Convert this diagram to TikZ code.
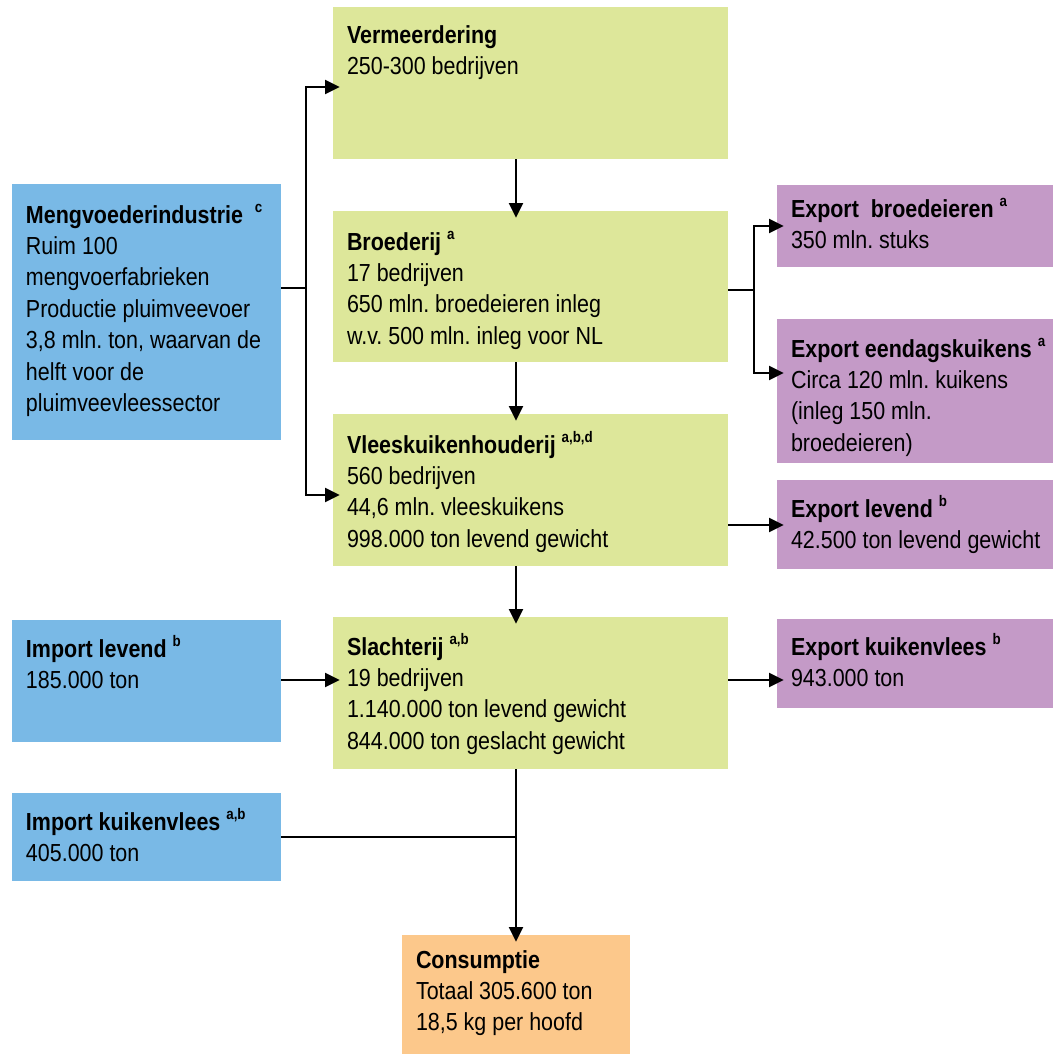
\documentclass[tikz,border=0pt]{standalone}
\usepackage{fontspec}
\setmainfont[FakeStretch=0.87]{Liberation Sans}
\usetikzlibrary{arrows.meta}
\definecolor{boxgreen}{RGB}{221,231,154}
\definecolor{boxblue}{RGB}{121,185,230}
\definecolor{boxpurple}{RGB}{196,154,199}
\definecolor{boxorange}{RGB}{252,200,139}
\tikzset{
  boxbase/.style={draw=none, inner sep=0pt, outer sep=0pt, anchor=north west},
  gbox/.style={boxbase, fill=boxgreen},
  bbox/.style={boxbase, fill=boxblue},
  pbox/.style={boxbase, fill=boxpurple},
  obox/.style={boxbase, fill=boxorange},
  boxtext/.style={inner sep=0pt, outer sep=0pt, anchor=north west, align=left,
    font=\fontsize{18.5}{23.6}\selectfont\frenchspacing, text=black},
  link/.style={line width=1.5pt},
  arr/.style={link, -{Triangle[length=11pt,width=10.5pt]}, shorten >=-5pt},
}
\newcommand{\supsc}[1]{\raisebox{7.8pt}{\fontsize{11.5}{11.5}\selectfont\bfseries #1}}
\newcommand{\flowbox}[8]{%
  \node[#1, minimum width={(#5-#3)*0.75pt}, minimum height={(#6-#4)*0.75pt}] (#2) at (#3,#4) {};
  \node[boxtext] (#2-t) at ({#3+14},{#4+#7-22}) {\strut #8};
}
\begin{document}
\begin{tikzpicture}[x=0.75pt, y=-0.75pt]
\useasboundingbox (0,0) rectangle (1053,1054);
% boxes
\flowbox{gbox}{vm}{333}{7}{728}{159}{36}{\textbf{Vermeerdering}\\250-300 bedrijven}
\flowbox{gbox}{br}{333}{211}{728}{362}{39}{\textbf{Broederij} \supsc{a}\\17 bedrijven\\650 mln. broedeieren inleg\\w.v. 500 mln. inleg voor NL}
\flowbox{gbox}{vl}{333}{414}{728}{566}{39}{\textbf{Vleeskuikenhouderij} \supsc{a,b,d}\\560 bedrijven\\44,6 mln. vleeskuikens\\998.000 ton levend gewicht}
\flowbox{gbox}{sl}{333}{617}{728}{769}{38}{\textbf{Slachterij} \supsc{a,b}\\19 bedrijven\\1.140.000 ton levend gewicht\\844.000 ton geslacht gewicht}
\flowbox{bbox}{mv}{12}{184}{281}{440}{39}{\textbf{Mengvoederindustrie}\ \ \supsc{c}\\Ruim 100\\mengvoerfabrieken\\Productie pluimveevoer\\3,8 mln. ton, waarvan de\\helft voor de\\pluimveevleessector}
\flowbox{bbox}{il}{12}{620}{281}{742}{37}{\textbf{Import levend} \supsc{b}\\185.000 ton}
\flowbox{bbox}{ik}{12}{793}{281}{881}{37}{\textbf{Import kuikenvlees} \supsc{a,b}\\405.000 ton}
\flowbox{obox}{co}{402}{935}{630}{1054}{33}{\textbf{Consumptie}\\Totaal 305.600 ton\\18,5 kg per hoofd}
\flowbox{pbox}{eb}{777}{185}{1053}{267}{32}{\textbf{Export\ \ broedeieren} \supsc{a}\\350 mln. stuks}
\flowbox{pbox}{ee}{777}{319}{1053}{463}{38}{\textbf{Export eendagskuikens} \supsc{a}\\Circa 120 mln. kuikens\\(inleg 150 mln.\\broedeieren)}
\flowbox{pbox}{el}{777}{480}{1053}{569}{37}{\textbf{Export levend} \supsc{b}\\42.500 ton levend gewicht}
\flowbox{pbox}{ek}{777}{619}{1053}{708}{36}{\textbf{Export kuikenvlees} \supsc{b}\\943.000 ton}
% helper coordinates
\coordinate (cx) at (516,0);
\coordinate (mvj) at (306,288);
\coordinate (yvm) at (0,87);
\coordinate (yvl) at (0,495);
\coordinate (brj) at (754,290);
\coordinate (yeb) at (0,226);
\coordinate (yee) at (0,373);
\coordinate (yel) at (0,525);
\coordinate (ysl) at (0,680);
\coordinate (ikj) at (516,837);
% main chain
\draw[arr] (vm.south -| cx) -- (br.north -| cx);
\draw[arr] (br.south -| cx) -- (vl.north -| cx);
\draw[arr] (vl.south -| cx) -- (sl.north -| cx);
\draw[arr] (sl.south -| cx) -- (co.north -| cx);
% feed
\draw[link] (mv.east |- mvj) -- (mvj);
\draw[arr] (mvj) |- (vm.west |- yvm);
\draw[arr] (mvj) |- (vl.west |- yvl);
% hatchery exports
\draw[link] (br.east |- brj) -- (brj);
\draw[arr] (brj) |- (eb.west |- yeb);
\draw[arr] (brj) |- (ee.west |- yee);
% other flows
\draw[arr] (vl.east |- yel) -- (el.west |- yel);
\draw[arr] (il.east |- ysl) -- (sl.west |- ysl);
\draw[arr] (sl.east |- ysl) -- (ek.west |- ysl);
\draw[link] (ik.east |- ikj) -- (ikj);
\end{tikzpicture}
\end{document}
